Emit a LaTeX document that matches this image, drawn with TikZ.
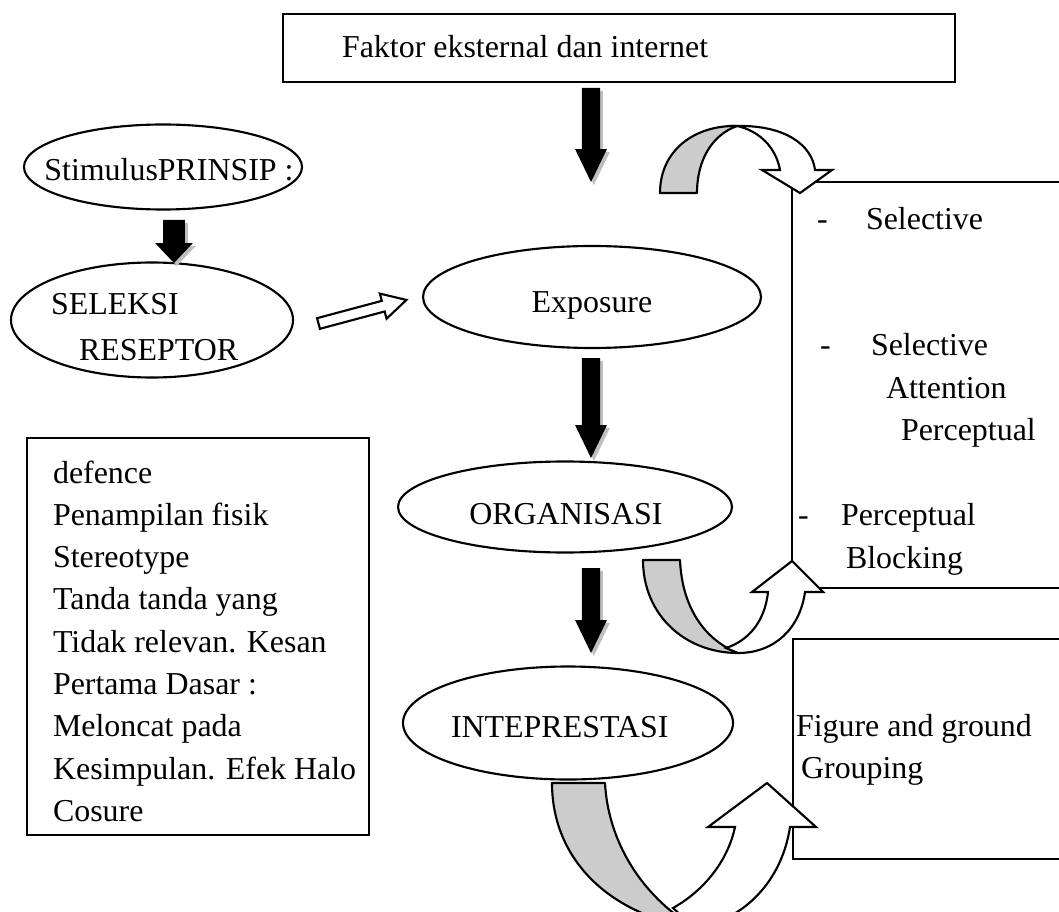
\documentclass[tikz,border=0pt]{standalone}
\usepackage{fontspec}
\setmainfont{Liberation Serif}
\usetikzlibrary{shapes.geometric,calc}

\newcommand{\pxu}{0.376pt}

\tikzset{
  ell/.style={draw, ellipse, line width=0.8pt, inner sep=0pt},
  txt/.style={inner sep=0pt, anchor=base west},
  boxed/.style={draw, line width=0.8pt, inner sep=0pt},
  band/.style={draw, line width=0.8pt, fill=gray!40, line join=round},
  bandw/.style={draw, line width=0.8pt, fill=white, line join=miter}
}

% block arrow with shadow: start, tip, half shaft, half head, head length
\newcommand{\blkarrow}[5]{%
  \foreach \dd/\cc in {1.1pt/gray!50, 0pt/black}
    \fill[\cc] let \p1=(#1), \p2=(#2) in
      (\x1-#3+\dd,\y1-\dd) -- (\x1+#3+\dd,\y1-\dd) -- (\x1+#3+\dd,\y2+#5-\dd)
      -- (\x1+#4+\dd,\y2+#5-\dd) -- (\x2+\dd,\y2-\dd)
      -- (\x1-#4+\dd,\y2+#5-\dd) -- (\x1-#3+\dd,\y2+#5-\dd) -- cycle;
}

\begin{document}
\begin{tikzpicture}[x=0.376pt, y=-0.376pt, line width=0.8pt,
  font=\fontsize{12pt}{15.9pt}\selectfont]

  \clip (0,0) rectangle (1059,911);

  % boxes
  \node[boxed, minimum width=672*\pxu, minimum height=68*\pxu] (faktor) at (619,48) {};
  \node[txt] (faktort) at (341,58) {Faktor eksternal dan internet};
  \node[boxed, minimum width=342*\pxu, minimum height=397*\pxu] (cues) at (198,636.5) {};
  \node[boxed, minimum width=300*\pxu, minimum height=406*\pxu] (selbox) at (942,385) {};
  \node[boxed, minimum width=300*\pxu, minimum height=220*\pxu] (grpbox) at (943,749) {};

  % ellipses
  \node[ell, minimum width=278*\pxu, minimum height=85*\pxu] (stim) at (163,167) {};
  \node[txt, anchor=base] (stimt) at (169,181) {StimulusPRINSIP :};

  \node[ell, minimum width=282*\pxu, minimum height=115*\pxu] (sel) at (152,320) {};
  \node[txt] (selt1) at (50,315) {SELEKSI};
  \node[txt] (selt2) at (78,360) {RESEPTOR};

  \node[ell, minimum width=338*\pxu, minimum height=102*\pxu] (expo) at (592,297) {};
  \node[txt, anchor=base] (expot) at (592,313) {Exposure};

  \node[ell, minimum width=334*\pxu, minimum height=91*\pxu] (org) at (565,507) {};
  \node[txt, anchor=base] (orgt) at (566,524) {ORGANISASI};

  \node[ell, minimum width=330*\pxu, minimum height=113*\pxu] (intep) at (568,723) {};
  \node[txt] (intept) at (450,737) {INTEPRESTASI};

  % left box text
  \foreach \t [count=\i from 0] in {defence, Penampilan fisik, Stereotype,
      Tanda tanda yang, Tidak relevan. Kesan, Pertama Dasar :, Meloncat pada,
      Kesimpulan. Efek Halo, Cosure}
    \node[txt] (cue\i) at (52,{483+42.3*\i}) {\t};

  % right box text
  \node[txt] (d1) at (816,230) {-};
  \node[txt] (s1) at (865,230) {Selective};
  \node[txt] (d2) at (819,355) {-};
  \node[txt] (s2) at (870,355) {Selective};
  \node[txt] (s3) at (885,398) {Attention};
  \node[txt] (s4) at (900,440) {Perceptual};
  \node[txt] (d3) at (797,525) {-};
  \node[txt] (s5) at (840,525) {Perceptual};
  \node[txt] (s6) at (845,568) {Blocking};

  \node[txt] (g1) at (795,736) {Figure and ground};
  \node[txt] (g2) at (800,778) {Grouping};

  % black arrows
  \coordinate (a1s) at (591,88);  \coordinate (a1e) at (591,182);
  \coordinate (a2s) at (174,220); \coordinate (a2e) at (174,263);
  \coordinate (a3s) at (591,358); \coordinate (a3e) at (591,458);
  \coordinate (a4s) at (591,568); \coordinate (a4e) at (591,653);
  \blkarrow{a1s}{a1e}{3.4pt}{6pt}{12.4pt}
  \blkarrow{a2s}{a2e}{4.1pt}{7.1pt}{7.5pt}
  \blkarrow{a3s}{a3e}{3.4pt}{6pt}{12.4pt}
  \blkarrow{a4s}{a4e}{3.4pt}{6pt}{12.4pt}

  % hollow arrow
  \coordinate (hin) at (318.5,323.5);
  \begin{scope}[shift={(hin)}, rotate=15]
    \draw[fill=white] (0,-5.5) -- (67,-5.5) -- (67,-13) -- (91,0) -- (67,13) -- (67,5.5) -- (0,5.5) -- cycle;
  \end{scope}

  % curved arrows
  \draw[band] (660,193) -- (697,193) .. controls (697,160) and (712,135) .. (737,126)
    .. controls (695,125) and (660,150) .. (660,193) -- cycle;
  \draw[bandw] (737,126) .. controls (785,125) and (812,145) .. (815,170) -- (832,170) -- (800,193)
    -- (762,170) -- (780,170) .. controls (776,148) and (760,131) .. (737,126) -- cycle;

  \draw[band] (643,560) -- (680,560) .. controls (682,608) and (705,640) .. (738,653)
    .. controls (685,653) and (643,615) .. (643,560) -- cycle;
  \draw[bandw] (726,648) .. controls (750,640) and (765,620) .. (768,592) -- (752,592) -- (792,561)
    -- (823,592) -- (805,592) .. controls (800,628) and (775,653) .. (738,653) -- cycle;

  \draw[band] (552,783) -- (605,783) .. controls (608,840) and (640,895) .. (695,928)
    .. controls (610,915) and (552,860) .. (552,783) -- cycle;
  \draw[bandw] (673,908) .. controls (705,890) and (728,860) .. (735,827) -- (708,827) -- (767,783)
    -- (816,827) -- (790,827) .. controls (782,880) and (745,920) .. (695,928) -- cycle;

\end{tikzpicture}
\end{document}
